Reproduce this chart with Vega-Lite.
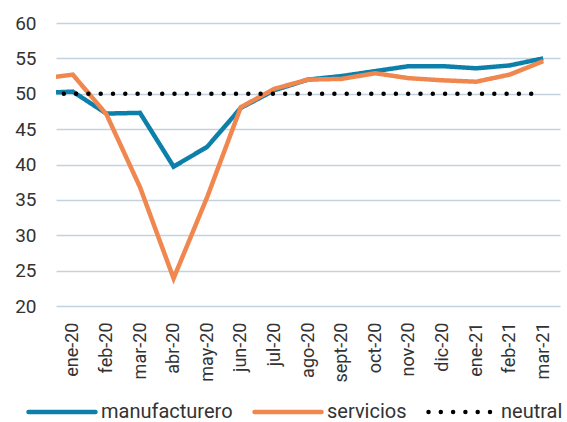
{
  "$schema": "https://vega.github.io/schema/vega-lite/v6.json",
  "width": 504,
  "height": 283,
  "autosize": {"type": "none"},
  "padding": {"left": 56, "top": 23, "right": 7, "bottom": 116},
  "background": "white",
  "config": {
    "view": {"stroke": null},
    "font": "Roboto",
    "axis": {"labelFont": "Roboto", "labelColor": "#333333"},
    "legend": {"labelFont": "Roboto", "labelColor": "#333333"}
  },
  "data": {
    "values": [
      {"i": 0, "s": "manufacturero", "v": 50.1},
      {"i": 1, "s": "manufacturero", "v": 50.3},
      {"i": 2, "s": "manufacturero", "v": 47.2},
      {"i": 3, "s": "manufacturero", "v": 47.3},
      {"i": 4, "s": "manufacturero", "v": 39.7},
      {"i": 5, "s": "manufacturero", "v": 42.5},
      {"i": 6, "s": "manufacturero", "v": 48.0},
      {"i": 7, "s": "manufacturero", "v": 50.5},
      {"i": 8, "s": "manufacturero", "v": 52.0},
      {"i": 9, "s": "manufacturero", "v": 52.5},
      {"i": 10, "s": "manufacturero", "v": 53.2},
      {"i": 11, "s": "manufacturero", "v": 53.9},
      {"i": 12, "s": "manufacturero", "v": 53.9},
      {"i": 13, "s": "manufacturero", "v": 53.6},
      {"i": 14, "s": "manufacturero", "v": 54.0},
      {"i": 15, "s": "manufacturero", "v": 55.0},
      {"i": 0, "s": "servicios", "v": 52.1},
      {"i": 1, "s": "servicios", "v": 52.7},
      {"i": 2, "s": "servicios", "v": 47.1},
      {"i": 3, "s": "servicios", "v": 36.8},
      {"i": 4, "s": "servicios", "v": 23.9},
      {"i": 5, "s": "servicios", "v": 35.4},
      {"i": 6, "s": "servicios", "v": 48.1},
      {"i": 7, "s": "servicios", "v": 50.7},
      {"i": 8, "s": "servicios", "v": 52.0},
      {"i": 9, "s": "servicios", "v": 52.1},
      {"i": 10, "s": "servicios", "v": 52.9},
      {"i": 11, "s": "servicios", "v": 52.2},
      {"i": 12, "s": "servicios", "v": 51.9},
      {"i": 13, "s": "servicios", "v": 51.7},
      {"i": 14, "s": "servicios", "v": 52.7},
      {"i": 15, "s": "servicios", "v": 54.6},
      {"i": 0, "s": "neutral", "v": 50},
      {"i": 1, "s": "neutral", "v": 50},
      {"i": 2, "s": "neutral", "v": 50},
      {"i": 3, "s": "neutral", "v": 50},
      {"i": 4, "s": "neutral", "v": 50},
      {"i": 5, "s": "neutral", "v": 50},
      {"i": 6, "s": "neutral", "v": 50},
      {"i": 7, "s": "neutral", "v": 50},
      {"i": 8, "s": "neutral", "v": 50},
      {"i": 9, "s": "neutral", "v": 50},
      {"i": 10, "s": "neutral", "v": 50},
      {"i": 11, "s": "neutral", "v": 50},
      {"i": 12, "s": "neutral", "v": 50},
      {"i": 13, "s": "neutral", "v": 50},
      {"i": 14, "s": "neutral", "v": 50},
      {"i": 15, "s": "neutral", "v": 50}
    ]
  },
  "encoding": {
    "x": {
      "field": "i",
      "type": "quantitative",
      "scale": {"domain": [0.5, 15.5], "nice": false, "zero": false},
      "axis": {
        "title": null,
        "values": [1, 2, 3, 4, 5, 6, 7, 8, 9, 10, 11, 12, 13, 14, 15],
        "labelExpr": "['dic-19','ene-20','feb-20','mar-20','abr-20','may-20','jun-20','jul-20','ago-20','sept-20','oct-20','nov-20','dic-20','ene-21','feb-21','mar-21'][datum.value]",
        "labelAngle": -90,
        "labelAlign": "right",
        "labelBaseline": "middle",
        "labelFontSize": 18,
        "labelPadding": 16,
        "labelOverlap": false,
        "labelBound": false,
        "labelFlush": false,
        "ticks": false,
        "domain": false,
        "grid": false
      }
    },
    "y": {
      "field": "v",
      "type": "quantitative",
      "scale": {"domain": [20, 60], "nice": false, "zero": false},
      "axis": {
        "title": null,
        "values": [20, 25, 30, 35, 40, 45, 50, 55, 60],
        "labelFontSize": 19,
        "labelPadding": 20,
        "ticks": false,
        "domain": false,
        "grid": true,
        "gridColor": "#c3d2de",
        "gridWidth": 1.6
      }
    },
    "color": {
      "field": "s",
      "type": "nominal",
      "scale": {
        "domain": ["manufacturero", "servicios", "neutral"],
        "range": ["#0c7fab", "#f0874f", "#000000"]
      },
      "legend": {
        "title": null,
        "orient": "none",
        "direction": "horizontal",
        "legendX": -30,
        "legendY": 353,
        "padding": 0,
        "symbolType": "stroke",
        "symbolSize": 4489,
        "symbolStrokeWidth": 4.5,
        "labelFontSize": 20,
        "labelOffset": 3,
        "columnPadding": 12,
        "encoding": {"symbols": {"strokeCap": {"value": "round"}}}
      }
    },
    "strokeDash": {
      "field": "s",
      "type": "nominal",
      "scale": {
        "domain": ["manufacturero", "servicios", "neutral"],
        "range": [[1, 0], [1, 0], [0, 12.3]]
      },
      "legend": null
    }
  },
  "layer": [
    {
      "transform": [{"filter": "datum.s == 'manufacturero'"}],
      "mark": {"type": "line", "strokeWidth": 4.5, "clip": true, "strokeJoin": "miter"}
    },
    {
      "transform": [{"filter": "datum.s == 'servicios'"}],
      "mark": {"type": "line", "strokeWidth": 4.5, "clip": true, "strokeJoin": "miter"}
    },
    {
      "transform": [{"filter": "datum.s == 'neutral'"}],
      "mark": {"type": "line", "strokeWidth": 4.5, "clip": true, "strokeCap": "round"}
    }
  ]
}
